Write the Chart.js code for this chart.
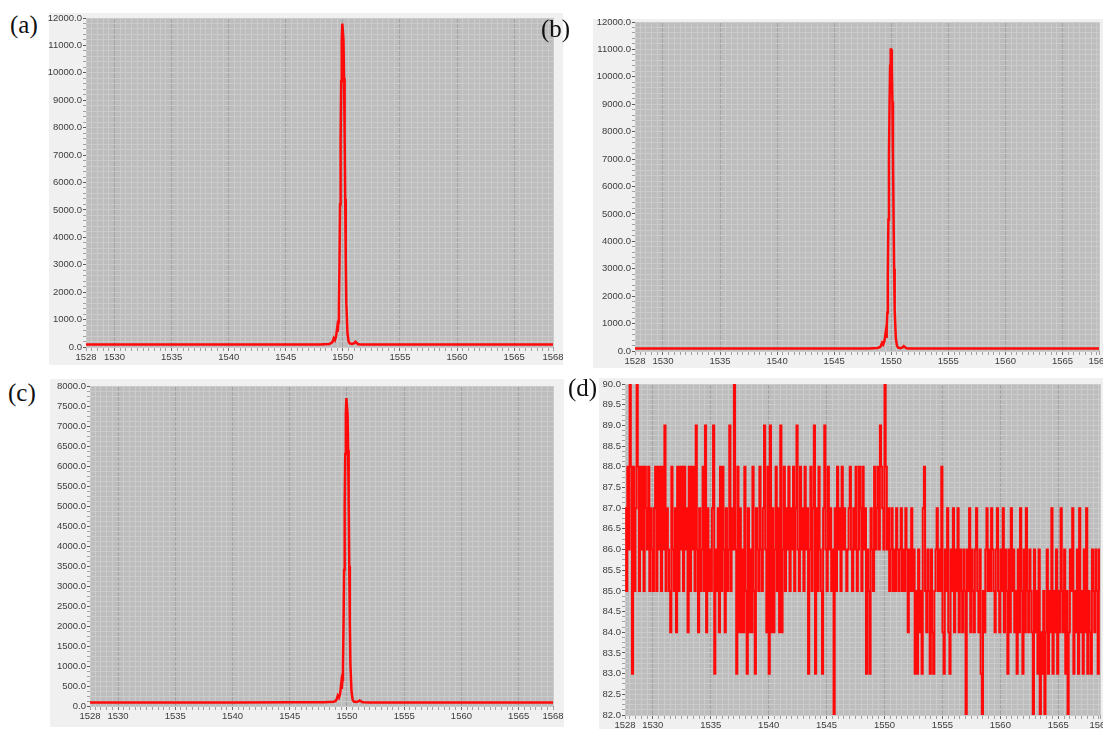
<!DOCTYPE html>
<html>
<head>
<meta charset="utf-8">
<script src="https://cdn.jsdelivr.net/npm/chart.js@4/dist/chart.umd.min.js"></script>
<style>
  html, body { margin: 0; padding: 0; background: #ffffff; width: 1103px; height: 729px; overflow: hidden; position: relative; }
  .box { position: absolute; background: #f0f0f0; }
  .cv { position: absolute; }
  .tag { position: absolute; font-family: "Liberation Serif", "Times New Roman", serif; font-size: 25px; line-height: 1; color: #111; }
</style>
</head>
<body>
<div class="box" style="left:49px;top:13px;width:514px;height:352px"></div>
<div class="box" style="left:593px;top:19px;width:510px;height:349px"></div>
<div class="box" style="left:50px;top:379px;width:514px;height:348px"></div>
<div class="box" style="left:599px;top:378px;width:504px;height:351px"></div>

<canvas id="chartA" class="cv"></canvas>
<canvas id="chartB" class="cv"></canvas>
<canvas id="chartC" class="cv"></canvas>
<canvas id="chartD" class="cv"></canvas>

<div class="tag" style="left:10px;top:12px">(a)</div>
<div class="tag" style="left:541px;top:16px">(b)</div>
<div class="tag" style="left:8px;top:380px">(c)</div>
<div class="tag" style="left:568px;top:375px">(d)</div>

<script>
// Wavelength samples (nm) shared by the three spectra
const wavelength = [1527, 1530, 1535, 1540, 1545, 1548, 1548.8,
  1549.0, 1549.1, 1549.2, 1549.3, 1549.4, 1549.5, 1549.55, 1549.6, 1549.65, 1549.7, 1549.75, 1549.8, 1549.85, 1549.9, 1549.95,
  1550.0, 1550.05, 1550.1, 1550.15, 1550.2, 1550.25, 1550.3, 1550.4, 1550.5, 1550.6, 1550.8,
  1551.0, 1551.1, 1551.2, 1551.3, 1551.5, 1552, 1555, 1560, 1565, 1569];

// Spectrum intensities
const intensityA = [88, 90, 88, 90, 92, 95, 110,
  150, 200, 320, 250, 380, 700, 560, 900, 1500, 3000, 5200, 7600, 9700, 11200, 11800,
  11800, 11200, 9800, 7800, 5400, 3200, 1600, 500, 200, 130, 110,
  140, 190, 160, 110, 95, 90, 88, 90, 88, 88];

const intensityB = [88, 90, 88, 90, 92, 95, 108,
  140, 190, 300, 240, 360, 650, 520, 850, 1400, 2800, 4800, 7100, 9000, 10400, 11000,
  11000, 10400, 9100, 7200, 5000, 3000, 1500, 470, 190, 125, 105,
  130, 175, 150, 105, 95, 90, 88, 90, 88, 88];

const intensityC = [88, 90, 88, 90, 92, 95, 105,
  120, 170, 260, 210, 300, 560, 430, 650, 1000, 2000, 3400, 5000, 6300, 7300, 7700,
  7700, 7300, 6400, 5100, 3500, 2100, 1050, 350, 150, 110, 100,
  115, 140, 125, 100, 95, 90, 88, 90, 88, 88];

// Background trace (d): one reading every 0.1 nm starting at 1527.6 nm
const noiseStart = 1527.6;
const noiseStep = 0.1;
const noiseD = [
  87, 85, 88, 86,
  90, 88, 83, 88, 85, 87, 90, 88, 85, 88,
  86, 88, 85, 88, 87, 86, 88, 85, 87, 86,
  85, 87, 88, 85, 88, 86, 88, 85, 88, 86,
  89, 85, 87, 86, 85, 84, 88, 86, 85, 87,
  84, 88, 85, 88, 86, 88, 85, 88, 86, 87,
  84, 88, 85, 88, 86, 88, 85, 89, 86, 84,
  87, 85, 86, 88, 85, 89, 84, 87, 85, 86,
  85, 87, 89, 83, 86, 85, 87, 84, 88, 85,
  88, 86, 84, 87, 85, 86, 89, 85, 87, 86,
  90, 86, 83, 88, 84, 87, 84, 86, 84, 88,
  85, 83, 87, 84, 86, 84, 88, 85, 83, 87,
  86, 85, 88, 86, 85, 87, 89, 86, 84, 88,
  83, 89, 84, 87, 84, 86, 88, 85, 87, 84,
  89, 84, 86, 88, 85, 87, 86, 88, 85, 87,
  86, 88, 85, 87, 89, 86, 85, 88, 86, 87,
  85, 88, 86, 87, 83, 86, 88, 85, 87, 89,
  83, 87, 85, 88, 86, 85, 83, 87, 89, 86,
  85, 88, 86, 87, 85, 86, 82, 87, 85, 88,
  86, 87, 85, 88, 86, 87, 86, 85, 86, 87,
  88, 86, 85, 87, 86, 88, 85, 86, 88, 87,
  85, 88, 86, 87, 83, 86, 85, 83, 87, 86,
  85, 88, 86, 87, 88, 86, 89, 88, 87, 86,
  90, 88, 86, 87, 85, 86, 87, 85, 86, 85,
  87, 86, 85, 86, 87, 85, 86, 85, 87, 86,
  84, 86, 85, 87, 85, 86, 83, 85, 83, 86,
  84, 85, 83, 87, 88, 85, 84, 86, 85, 83,
  86, 84, 83, 85, 86, 87, 85, 86, 85, 88,
  84, 83, 86, 85, 87, 84, 83, 86, 85, 87,
  84, 86, 85, 87, 84, 86, 85, 84, 86, 85,
  82, 86, 85, 87, 84, 86, 85, 84, 86, 87,
  85, 84, 86, 83, 82, 85, 84, 86, 87, 85,
  86, 85, 87, 86, 85, 84, 86, 87, 85, 84,
  86, 85, 87, 84, 86, 85, 83, 86, 84, 87,
  85, 86, 84, 85, 83, 86, 84, 87, 85, 83,
  86, 84, 87, 85, 84, 86, 85, 84, 82, 86,
  84, 85, 83, 86, 82, 84, 83, 85, 82, 84,
  86, 83, 85, 84, 87, 83, 85, 84, 86, 83,
  85, 84, 87, 85, 84, 86, 83, 85, 82, 84,
  86, 85, 87, 83, 85, 84, 86, 83, 87, 84,
  85, 83, 86, 84, 87, 83, 85, 84, 83, 86,
  85, 84, 86, 85, 83, 86, 85
];

// Labelled x ticks (nm)
const xMajorTicks = [1530, 1535, 1540, 1545, 1550, 1555, 1560, 1565];

const TRACE_RED = '#ff0a0a';
const PLOT_BG = '#bdbdbd';
const GRID_MINOR = '#cbcbcb';
const GRID_MAJOR = '#a4a4a4';
const TICK_FONT = { family: '"Liberation Sans", Arial, sans-serif', size: 9.5 };

Chart.defaults.animation = false;

const plotBackdrop = {
  id: 'plotBackdrop',
  beforeDraw(chart) {
    const { ctx, chartArea: a } = chart;
    ctx.save();
    ctx.fillStyle = PLOT_BG;
    ctx.fillRect(a.left, a.top, a.width, a.height);
    ctx.restore();
  }
};

function buildXTicks(min, max) {
  const list = [{ value: min, major: false, text: String(Math.round(min)) }];
  for (let k = Math.ceil(min * 2); k <= Math.floor(max * 2); k++) {
    const v = k / 2;
    if (v <= min || v >= max) continue;
    const major = xMajorTicks.includes(v);
    list.push({ value: v, major, text: major ? String(v) : '' });
  }
  list.push({ value: max, major: false, text: String(Math.round(max)) });
  return list;
}

function buildYTicks(min, max, majorStep, minorStep) {
  const list = [];
  const n = Math.round((max - min) / minorStep);
  const per = Math.round(majorStep / minorStep);
  for (let i = 0; i <= n; i++) {
    const v = min + i * minorStep;
    const major = i % per === 0;
    list.push({ value: v, major, text: major ? v.toFixed(1) : '' });
  }
  return list;
}

function makePanel(id, g, points, opts) {
  const canvas = document.getElementById(id);
  const left = g.plotLeft - g.yAxisW;
  const top = g.plotTop - g.padTop;
  const width = g.plotRight + g.padRight - left;
  const height = g.plotBottom + g.xAxisH - top;
  canvas.width = width;
  canvas.height = height;
  canvas.style.left = left + 'px';
  canvas.style.top = top + 'px';
  canvas.style.width = width + 'px';
  canvas.style.height = height + 'px';

  return new Chart(canvas, {
    type: 'line',
    data: {
      datasets: [{
        data: points,
        borderColor: TRACE_RED,
        borderWidth: opts.lineWidth,
        pointRadius: 0,
        tension: 0,
        stepped: opts.stepped || false,
        fill: false
      }]
    },
    options: {
      responsive: false,
      devicePixelRatio: 1,
      layout: { padding: { top: g.padTop, right: g.padRight, left: 0, bottom: 0 } },
      plugins: { legend: { display: false }, tooltip: { enabled: false } },
      scales: {
        x: {
          type: 'linear',
          min: opts.xMin,
          max: opts.xMax,
          afterBuildTicks(s) { s.ticks = buildXTicks(opts.xMin, opts.xMax); },
          afterFit(s) { s.height = g.xAxisH; },
          border: { display: false },
          grid: {
            drawOnChartArea: true,
            drawTicks: true,
            tickLength: 4,
            lineWidth: 1,
            color: c => (c.tick && c.tick.major) ? GRID_MAJOR : GRID_MINOR,
            tickColor: c => (c.tick && c.tick.major) ? '#6a6a6a' : '#a0a0a0'
          },
          ticks: {
            autoSkip: false,
            maxRotation: 0,
            minRotation: 0,
            padding: 1,
            color: '#3c3c3c',
            font: TICK_FONT,
            callback: (v, i, t) => t[i].text
          }
        },
        y: {
          type: 'linear',
          min: opts.yMin,
          max: opts.yMax,
          afterBuildTicks(s) { s.ticks = buildYTicks(opts.yMin, opts.yMax, opts.yMajor, opts.yMinor); },
          afterFit(s) { s.width = g.yAxisW; },
          border: { display: false },
          grid: {
            drawOnChartArea: true,
            drawTicks: true,
            tickLength: 3,
            lineWidth: 1,
            color: GRID_MINOR,
            tickColor: c => (c.tick && c.tick.major) ? '#5a5a5a' : '#a0a0a0'
          },
          ticks: {
            autoSkip: false,
            padding: 1,
            color: '#3c3c3c',
            font: TICK_FONT,
            callback: (v, i, t) => t[i].text
          }
        }
      }
    },
    plugins: [plotBackdrop]
  });
}

const spectrumPoints = vals => wavelength.map((x, i) => ({ x, y: vals[i] }));
const noisePoints = noiseD.map((y, i) => ({ x: +(noiseStart + i * noiseStep).toFixed(2), y }));

makePanel('chartA',
  { plotLeft: 86, plotTop: 18, plotRight: 553, plotBottom: 347, yAxisW: 48, padTop: 10, padRight: 14, xAxisH: 22 },
  spectrumPoints(intensityA),
  { xMin: 1527.5, xMax: 1568.4, yMin: 0, yMax: 12000, yMajor: 1000, yMinor: 200, lineWidth: 2.5 });

makePanel('chartB',
  { plotLeft: 635, plotTop: 22, plotRight: 1099, plotBottom: 351, yAxisW: 50, padTop: 10, padRight: 14, xAxisH: 22 },
  spectrumPoints(intensityB),
  { xMin: 1527.55, xMax: 1568.2, yMin: 0, yMax: 12000, yMajor: 1000, yMinor: 200, lineWidth: 2.5 });

makePanel('chartC',
  { plotLeft: 90, plotTop: 386, plotRight: 553, plotBottom: 706, yAxisW: 50, padTop: 10, padRight: 14, xAxisH: 22 },
  spectrumPoints(intensityC),
  { xMin: 1527.55, xMax: 1568.0, yMin: 0, yMax: 8000, yMajor: 500, yMinor: 125, lineWidth: 2.5 });

makePanel('chartD',
  { plotLeft: 625, plotTop: 384, plotRight: 1100, plotBottom: 715, yAxisW: 34, padTop: 10, padRight: 14, xAxisH: 22 },
  noisePoints,
  { xMin: 1527.6, xMax: 1568.6, yMin: 82, yMax: 90, yMajor: 0.5, yMinor: 0.125, lineWidth: 2, stepped: true });
</script>
</body>
</html>
